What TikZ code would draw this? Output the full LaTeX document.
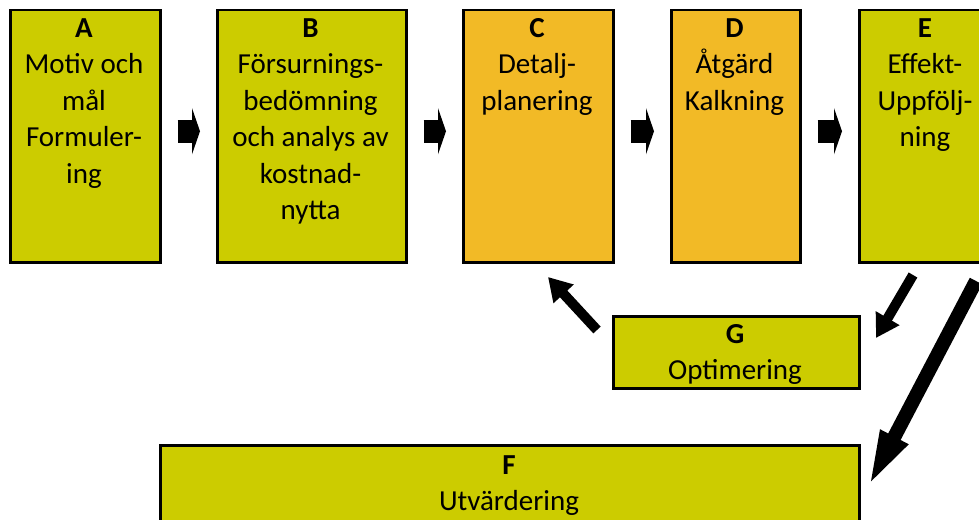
\documentclass[tikz,border=0pt]{standalone}
\usepackage{fontspec}
\setmainfont{Carlito}
\usetikzlibrary{arrows.meta}
\definecolor{ygreen}{RGB}{204,204,0}
\definecolor{orng}{RGB}{242,186,38}
\begin{document}
\begin{tikzpicture}[x=1pt,y=-1pt,
 box/.style={draw=black,line width=2.5pt,inner sep=0pt,anchor=north west},
 txt/.style={align=center,font=\fontsize{29}{36.5}\selectfont,anchor=base,inner sep=0pt},
 blk/.style={line width=23pt,-{Triangle[length=8pt,width=46pt]},shorten <=16pt,shorten >=16pt},
 dg/.style={line width=10pt,-{Triangle[length=23pt,width=26pt]}},
 bg/.style={line width=14pt,-{Triangle[length=59pt,width=27pt]}},
]
\useasboundingbox (0,0) rectangle (979,519);
\clip (0,0) rectangle (979,519);
\node[box,fill=ygreen,minimum width=150pt,minimum height=252pt] (A) at (9,9) {};
\node[box,fill=ygreen,minimum width=189pt,minimum height=252pt] (B) at (216,9) {};
\node[box,fill=orng,minimum width=150pt,minimum height=252pt] (C) at (462,9) {};
\node[box,fill=orng,minimum width=129pt,minimum height=252pt] (D) at (670,9) {};
\node[box,fill=ygreen,minimum width=142pt,minimum height=252pt] (E) at (858,9) {};
\node[box,fill=ygreen,minimum width=246pt,minimum height=72pt] (G) at (612,315) {};
\node[box,fill=ygreen,minimum width=699pt,minimum height=96pt] (F) at (159,444) {};

\node[txt] (tA) at (84,183) {\textbf{A}\\Motiv och\\mål\\Formuler-\\ing};
\node[txt] (tB) at (310.5,219.5) {\textbf{B}\\Försurnings-\\bedömning\\och analys av\\kostnad-\\nytta};
\node[txt] (tC) at (537,110) {\textbf{C}\\Detalj-\\planering};
\node[txt] (tD) at (734.5,110) {\textbf{D}\\Åtgärd\\Kalkning};
\node[txt] (tE) at (925,146.5) {\textbf{E}\\Effekt-\\Uppfölj-\\ning};
\node[txt] (tG) at (735,379.5) {\textbf{G}\\Optimering};
\node[txt] (tF) at (509,510.5) {\textbf{F}\\Utvärdering};

\draw[blk] ([yshift=5pt]A.east) -- ([yshift=5pt]B.west);
\draw[blk] ([yshift=5pt]B.east) -- ([yshift=5pt]C.west);
\draw[blk] ([yshift=5pt]C.east) -- ([yshift=5pt]D.west);
\draw[blk] ([yshift=5pt]D.east) -- ([yshift=5pt]E.west);

\coordinate (gs) at (597,330);
\coordinate (ct) at (548,277);
\coordinate (es) at (913,275);
\coordinate (gt) at (876,338);
\coordinate (fs) at (976,281);
\coordinate (ft) at (867,489);
\draw[dg] (gs) -- (ct);
\draw[dg] (es) -- (gt);
\draw[bg] (fs) -- (ft);
\end{tikzpicture}
\end{document}
